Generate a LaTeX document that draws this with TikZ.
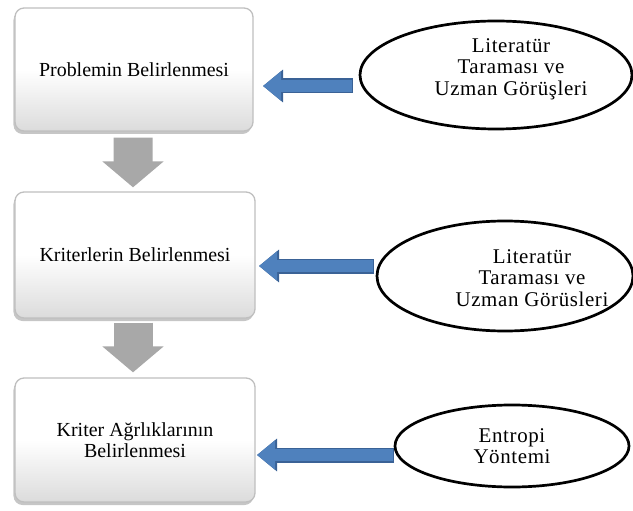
\documentclass[tikz,border=0pt]{standalone}
\usepackage{fontspec}
\setmainfont{Liberation Serif}
\newfontfamily\ellfont{Liberation Serif}[LetterSpace=3]
\usetikzlibrary{shapes.geometric,shadows,arrows.meta}
\definecolor{blueF}{HTML}{4F81BD}
\definecolor{blueD}{HTML}{3A6296}
\definecolor{grayA}{HTML}{A8A8A8}
\tikzset{
  stepbox/.style={rectangle, rounded corners=9bp, minimum width=238bp, minimum height=123bp,
    draw=gray!50, line width=1.3bp, top color=white, bottom color=gray!28, middle color=white,
    drop shadow={shadow xshift=-1.5bp, shadow yshift=-3bp, opacity=0.45},
    align=center, font=\fontsize{20}{20.5}\selectfont, inner sep=0pt},
  oval/.style={ellipse, draw=black, line width=2.7bp, inner sep=0pt},
  ovaltext/.style={align=center, font=\ellfont\fontsize{21}{21.5}\selectfont, inner sep=0pt},
  downarrow/.style={draw=grayA, line width=39bp, -{Triangle[length=26bp, width=60bp]}},
  leftarrow/.style={draw=blueF, line width=12.5bp, -{Triangle[length=18bp, width=28bp]},
    preaction={draw=blueD, line width=15bp, shorten <=-1.2bp, -{Triangle[length=20bp, width=31.5bp]}}}
}
\begin{document}
\begin{tikzpicture}[x=1bp,y=-1bp]
\useasboundingbox (0,0) rectangle (633,511);
% boxes
\node[stepbox, minimum height=123bp] (b1) at (134,69.5) {Problemin Belirlenmesi};
\node[stepbox, minimum width=240bp, minimum height=126bp] (b2) at (135,255) {Kriterlerin Belirlenmesi};
\node[stepbox, minimum width=240bp, minimum height=124bp] (b3) at (135,440) {Kriter Ağrlıklarının\\Belirlenmesi};
% ellipses
\node[oval, minimum width=272bp, minimum height=108bp] (e1) at (496,75) {};
\node[oval, minimum width=256bp, minimum height=110bp] (e2) at (505,276) {};
\node[oval, minimum width=234bp, minimum height=82bp] (e3) at (512,446) {};
\node[ovaltext] (t1) at (511,69) {Literatür\\Taraması ve\\Uzman Görüşleri};
\node[ovaltext] (t2) at (532,278) {Literatür\\Taraması ve\\Uzman Görüsleri};
\node[ovaltext] (t3) at (512,446) {Entropi\\Yöntemi};
% gray arrows
\draw[downarrow] ([xshift=-1bp,yshift=-6bp]b1.south) -- ([xshift=-2bp,yshift=4bp]b2.north);
\draw[downarrow] ([xshift=-2bp,yshift=-4bp]b2.south) -- ([xshift=-2bp,yshift=5bp]b3.north);
% blue arrows
\coordinate (s1) at (352,86);  \coordinate (f1) at (263,86);
\coordinate (s2) at (373,266); \coordinate (f2) at (259,266);
\coordinate (s3) at (393,455); \coordinate (f3) at (257,455);
\draw[leftarrow] (s1) -- (f1);
\draw[leftarrow] (s2) -- (f2);
\draw[leftarrow] (s3) -- (f3);
\end{tikzpicture}
\end{document}
